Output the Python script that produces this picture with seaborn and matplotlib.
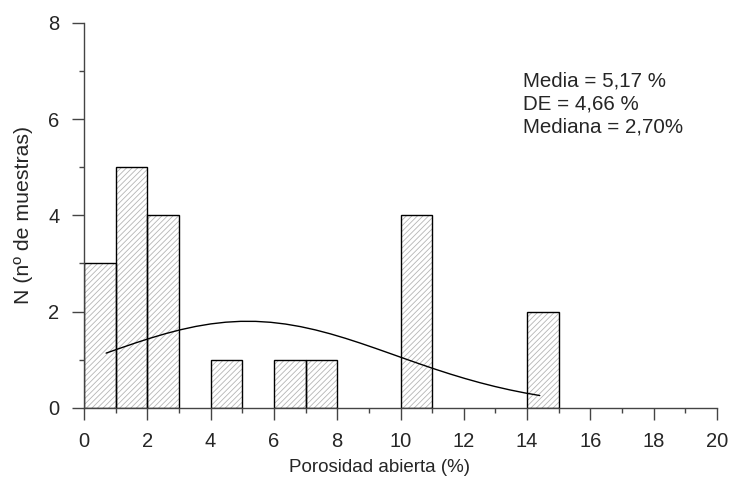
import numpy as np
import pandas as pd
import matplotlib
matplotlib.use("Agg")
import matplotlib.pyplot as plt
import seaborn as sns
from matplotlib.ticker import MultipleLocator

# Data
bin_left = [0, 1, 2, 4, 6, 7, 10, 14]
counts = [3, 5, 4, 1, 1, 1, 4, 2]
mean_val = 5.17
sd_val = 4.66
curve_start, curve_end = 0.7, 14.4
stats_text = "Media = 5,17 %\nDE = 4,66 %\nMediana = 2,70%"
xlabel = "Porosidad abierta (%)"
ylabel = "N (nº de muestras)"

sns.set_style("ticks")
plt.rcParams['font.family'] = ['Liberation Sans', 'DejaVu Sans']
plt.rcParams['hatch.linewidth'] = 0.6

W, H = 731, 478
x0, x1, y0, y1 = 84, 717, 407.7, 23
fig = plt.figure(figsize=(W/100, H/100), dpi=100)
ax = fig.add_axes([x0/W, 1-y0/H, (x1-x0)/W, (y0-y1)/H])

df = pd.DataFrame({"x": np.array(bin_left, dtype=float) + 0.5,
                   "w": np.array(counts, dtype=float)})
# hatch layer
sns.histplot(data=df, x="x", weights="w", binwidth=1, binrange=(0, 15),
             fill=False, color="#b5b5b5", linewidth=0, ax=ax)
for p in ax.patches:
    if p.get_height() > 0:
        p.set_hatch("//////")
        p.set_linewidth(0)
    else:
        p.set_visible(False)
nh = len(ax.patches)
# outline layer
sns.histplot(data=df, x="x", weights="w", binwidth=1, binrange=(0, 15),
             fill=False, color="black", linewidth=1.0, ax=ax)
for p in ax.patches[nh:]:
    if p.get_height() <= 0:
        p.set_visible(False)

n = sum(counts)
xs = np.linspace(curve_start, curve_end, 30)
ys = n * 1.0 / (sd_val * np.sqrt(2 * np.pi)) * np.exp(-0.5 * ((xs - mean_val) / sd_val) ** 2)
sns.lineplot(x=xs, y=ys, color="black", linewidth=1.0, ax=ax)

ax.set_xlim(0, 20)
ax.set_ylim(0, 8)
ax.xaxis.set_major_locator(MultipleLocator(2))
ax.xaxis.set_minor_locator(MultipleLocator(1))
ax.yaxis.set_major_locator(MultipleLocator(2))
ax.yaxis.set_minor_locator(MultipleLocator(1))
for s in ["top", "right"]:
    ax.spines[s].set_visible(False)
for s in ["left", "bottom"]:
    ax.spines[s].set_color("#444444")
    ax.spines[s].set_linewidth(1.0)
ax.tick_params(which="major", length=8.6, width=1.0, color="#444444", labelsize=14.5)
ax.tick_params(which="minor", length=3.6, width=1.0, color="#444444")
ax.tick_params(axis="x", which="major", pad=9)
ax.tick_params(axis="y", which="major", pad=9)
ax.set_xlabel(xlabel, fontsize=13.5)
ax.set_ylabel(ylabel, fontsize=15.3)
ax.xaxis.set_label_coords((379.5-x0)/(x1-x0), (y0-459)/(y0-y1))
ax.yaxis.set_label_coords((33-x0)/(x1-x0), 0.5)
ax.text(13.87, 7.0, stats_text, fontsize=14.8, va="top", ha="left", linespacing=1.29)

fig.savefig("out.png", dpi=100)
